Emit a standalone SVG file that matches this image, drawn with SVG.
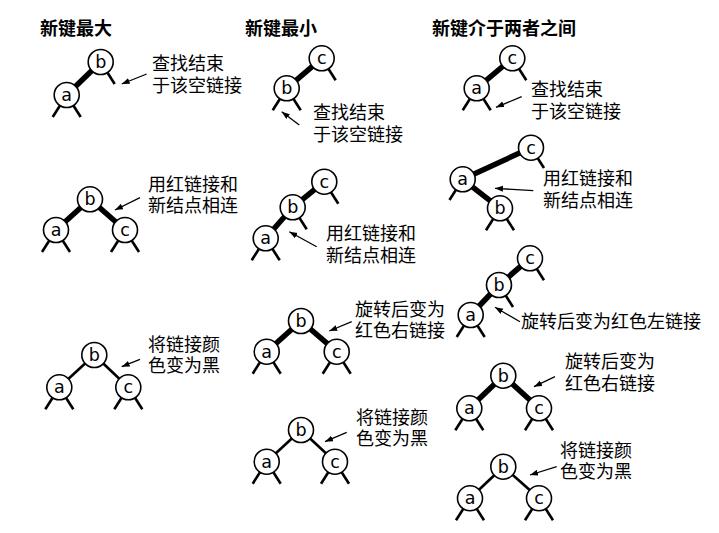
<svg xmlns="http://www.w3.org/2000/svg" width="719" height="533" viewBox="0 0 719 533">
<style>
.n circle{fill:#fff;stroke:#000;stroke-width:1.6}
.n text{font-family:"DejaVu Sans",sans-serif;font-size:17.5px;text-anchor:middle;fill:#000}
.thick{stroke:#000;stroke-width:5.5;stroke-linecap:butt}
.thin{stroke:#000;stroke-width:2.6}
.stub{stroke:#000;stroke-width:2.6}
.arr{stroke:#000;stroke-width:1.3;marker-end:url(#ah)}
.lbl{font-family:"Noto Sans CJK SC","Noto Sans",sans-serif;font-size:18px;fill:#000}
.ttl{font-family:"Noto Sans CJK SC","Noto Sans",sans-serif;font-size:18px;font-weight:bold;fill:#000}
</style>
<defs>
<marker id="ah" markerUnits="userSpaceOnUse" markerWidth="9" markerHeight="7" refX="8" refY="3" orient="auto">
<path d="M0,0 L8,3 L0,6 z" fill="#000"/>
</marker>
</defs>
<rect width="719" height="533" fill="#fff"/>
<g id="titles">
<text class="ttl" x="40" y="35">新键最大</text>
<text class="ttl" x="245" y="35">新键最小</text>
<text class="ttl" x="432" y="35">新键介于两者之间</text>
</g>
<g id="connectors">
<line class="thick" x1="100.7" y1="62" x2="66.7" y2="95"/>
<line class="stub" x1="100.7" y1="62" x2="114.7" y2="84"/>
<line class="stub" x1="66.7" y1="95" x2="52.7" y2="117"/>
<line class="stub" x1="66.7" y1="95" x2="80.7" y2="117"/>
<line class="arr" x1="146.7" y1="74" x2="121.7" y2="84"/>
<line class="thick" x1="321.7" y1="58.3" x2="286.7" y2="88.3"/>
<line class="stub" x1="321.7" y1="58.3" x2="335.7" y2="80.3"/>
<line class="stub" x1="286.7" y1="88.3" x2="272.7" y2="110.3"/>
<line class="stub" x1="286.7" y1="88.3" x2="300.7" y2="110.3"/>
<line class="arr" x1="299.3" y1="125" x2="281.7" y2="111.7"/>
<line class="thick" x1="512.3" y1="58.3" x2="476.7" y2="88.3"/>
<line class="stub" x1="512.3" y1="58.3" x2="526.3" y2="80.3"/>
<line class="stub" x1="476.7" y1="88.3" x2="462.7" y2="110.3"/>
<line class="stub" x1="476.7" y1="88.3" x2="490.7" y2="110.3"/>
<line class="arr" x1="521.7" y1="96.7" x2="496" y2="107.3"/>
<line class="thick" x1="90" y1="199.3" x2="56" y2="230"/>
<line class="thick" x1="90" y1="199.3" x2="125" y2="230"/>
<line class="stub" x1="56" y1="230" x2="42" y2="252"/>
<line class="stub" x1="56" y1="230" x2="70" y2="252"/>
<line class="stub" x1="125" y1="230" x2="111" y2="252"/>
<line class="stub" x1="125" y1="230" x2="139" y2="252"/>
<line class="arr" x1="140" y1="197.7" x2="115" y2="210"/>
<line class="thick" x1="324.3" y1="181.7" x2="292.7" y2="207.3"/>
<line class="thick" x1="292.7" y1="207.3" x2="265.7" y2="238.3"/>
<line class="stub" x1="324.3" y1="181.7" x2="338.3" y2="203.7"/>
<line class="stub" x1="292.7" y1="207.3" x2="306.7" y2="229.3"/>
<line class="stub" x1="265.7" y1="238.3" x2="251.7" y2="260.3"/>
<line class="stub" x1="265.7" y1="238.3" x2="279.7" y2="260.3"/>
<line class="arr" x1="316.7" y1="246.7" x2="289.3" y2="231.7"/>
<line class="thick" x1="462.7" y1="179.3" x2="531" y2="147.7"/>
<line class="thick" x1="462.7" y1="179.3" x2="500" y2="208.3"/>
<line class="stub" x1="531" y1="147.7" x2="544" y2="168"/>
<line class="stub" x1="462.7" y1="179.3" x2="449.5" y2="200"/>
<line class="stub" x1="500" y1="208.3" x2="486" y2="230.3"/>
<line class="stub" x1="500" y1="208.3" x2="514" y2="230.3"/>
<line class="arr" x1="533.3" y1="190.7" x2="495" y2="188.3"/>
<line class="thick" x1="530" y1="258.3" x2="499" y2="285"/>
<line class="thick" x1="499" y1="285" x2="470.7" y2="315"/>
<line class="stub" x1="530" y1="258.3" x2="544" y2="280.3"/>
<line class="stub" x1="499" y1="285" x2="513" y2="307"/>
<line class="stub" x1="470.7" y1="315" x2="456.7" y2="337"/>
<line class="stub" x1="470.7" y1="315" x2="484.7" y2="337"/>
<line class="arr" x1="520" y1="321.7" x2="495" y2="307.3"/>
<line class="thin" x1="94.3" y1="355" x2="59.3" y2="387.3"/>
<line class="thin" x1="94.3" y1="355" x2="128.3" y2="387.3"/>
<line class="stub" x1="59.3" y1="387.3" x2="45.3" y2="409.3"/>
<line class="stub" x1="59.3" y1="387.3" x2="73.3" y2="409.3"/>
<line class="stub" x1="128.3" y1="387.3" x2="114.3" y2="409.3"/>
<line class="stub" x1="128.3" y1="387.3" x2="142.3" y2="409.3"/>
<line class="arr" x1="140" y1="359.3" x2="121.7" y2="366.7"/>
<line class="thick" x1="301" y1="321" x2="266.7" y2="351.7"/>
<line class="thick" x1="301" y1="321" x2="336.7" y2="351.7"/>
<line class="stub" x1="266.7" y1="351.7" x2="252.7" y2="373.7"/>
<line class="stub" x1="266.7" y1="351.7" x2="280.7" y2="373.7"/>
<line class="stub" x1="336.7" y1="351.7" x2="322.7" y2="373.7"/>
<line class="stub" x1="336.7" y1="351.7" x2="350.7" y2="373.7"/>
<line class="arr" x1="351.7" y1="321.7" x2="329.3" y2="331"/>
<line class="thin" x1="301" y1="430" x2="266.7" y2="461.7"/>
<line class="thin" x1="301" y1="430" x2="335" y2="461.7"/>
<line class="stub" x1="266.7" y1="461.7" x2="252.7" y2="483.7"/>
<line class="stub" x1="266.7" y1="461.7" x2="280.7" y2="483.7"/>
<line class="stub" x1="335" y1="461.7" x2="321" y2="483.7"/>
<line class="stub" x1="335" y1="461.7" x2="349" y2="483.7"/>
<line class="arr" x1="346.7" y1="432.3" x2="325" y2="441.7"/>
<line class="thick" x1="503.3" y1="375.7" x2="469.3" y2="408.3"/>
<line class="thick" x1="503.3" y1="375.7" x2="539" y2="408.3"/>
<line class="stub" x1="469.3" y1="408.3" x2="455.3" y2="430.3"/>
<line class="stub" x1="469.3" y1="408.3" x2="483.3" y2="430.3"/>
<line class="stub" x1="539" y1="408.3" x2="525" y2="430.3"/>
<line class="stub" x1="539" y1="408.3" x2="553" y2="430.3"/>
<line class="arr" x1="555" y1="376.7" x2="534" y2="386.7"/>
<line class="thin" x1="503.3" y1="466.7" x2="470" y2="498.3"/>
<line class="thin" x1="503.3" y1="466.7" x2="539" y2="498.3"/>
<line class="stub" x1="470" y1="498.3" x2="456" y2="520.3"/>
<line class="stub" x1="470" y1="498.3" x2="484" y2="520.3"/>
<line class="stub" x1="539" y1="498.3" x2="525" y2="520.3"/>
<line class="stub" x1="539" y1="498.3" x2="553" y2="520.3"/>
<line class="arr" x1="556.7" y1="466.7" x2="530" y2="475"/>
</g>
<g id="p1-b" class="n"><circle cx="100.7" cy="62" r="12.5"/><text x="100.7" y="67.8">b</text></g>
<g id="p1-a" class="n"><circle cx="66.7" cy="95" r="12.5"/><text x="66.7" y="100.8">a</text></g>
<g id="p2-c" class="n"><circle cx="321.7" cy="58.3" r="12.5"/><text x="321.7" y="64.1">c</text></g>
<g id="p2-b" class="n"><circle cx="286.7" cy="88.3" r="12.5"/><text x="286.7" y="94.1">b</text></g>
<g id="p3-c" class="n"><circle cx="512.3" cy="58.3" r="12.5"/><text x="512.3" y="64.1">c</text></g>
<g id="p3-a" class="n"><circle cx="476.7" cy="88.3" r="12.5"/><text x="476.7" y="94.1">a</text></g>
<g id="q1-b" class="n"><circle cx="90" cy="199.3" r="12.5"/><text x="90" y="205.1">b</text></g>
<g id="q1-a" class="n"><circle cx="56" cy="230" r="12.5"/><text x="56" y="235.8">a</text></g>
<g id="q1-c" class="n"><circle cx="125" cy="230" r="12.5"/><text x="125" y="235.8">c</text></g>
<g id="q2-c" class="n"><circle cx="324.3" cy="181.7" r="12.5"/><text x="324.3" y="187.5">c</text></g>
<g id="q2-b" class="n"><circle cx="292.7" cy="207.3" r="12.5"/><text x="292.7" y="213.1">b</text></g>
<g id="q2-a" class="n"><circle cx="265.7" cy="238.3" r="12.5"/><text x="265.7" y="244.1">a</text></g>
<g id="q3-c" class="n"><circle cx="531" cy="147.7" r="12.5"/><text x="531" y="153.5">c</text></g>
<g id="q3-a" class="n"><circle cx="462.7" cy="179.3" r="12.5"/><text x="462.7" y="185.1">a</text></g>
<g id="q3-b" class="n"><circle cx="500" cy="208.3" r="12.5"/><text x="500" y="214.1">b</text></g>
<g id="q4-c" class="n"><circle cx="530" cy="258.3" r="12.5"/><text x="530" y="264.1">c</text></g>
<g id="q4-b" class="n"><circle cx="499" cy="285" r="12.5"/><text x="499" y="290.8">b</text></g>
<g id="q4-a" class="n"><circle cx="470.7" cy="315" r="12.5"/><text x="470.7" y="320.8">a</text></g>
<g id="r1-b" class="n"><circle cx="94.3" cy="355" r="12.5"/><text x="94.3" y="360.8">b</text></g>
<g id="r1-a" class="n"><circle cx="59.3" cy="387.3" r="12.5"/><text x="59.3" y="393.1">a</text></g>
<g id="r1-c" class="n"><circle cx="128.3" cy="387.3" r="12.5"/><text x="128.3" y="393.1">c</text></g>
<g id="r2-b" class="n"><circle cx="301" cy="321" r="12.5"/><text x="301" y="326.8">b</text></g>
<g id="r2-a" class="n"><circle cx="266.7" cy="351.7" r="12.5"/><text x="266.7" y="357.5">a</text></g>
<g id="r2-c" class="n"><circle cx="336.7" cy="351.7" r="12.5"/><text x="336.7" y="357.5">c</text></g>
<g id="r3-b" class="n"><circle cx="301" cy="430" r="12.5"/><text x="301" y="435.8">b</text></g>
<g id="r3-a" class="n"><circle cx="266.7" cy="461.7" r="12.5"/><text x="266.7" y="467.5">a</text></g>
<g id="r3-c" class="n"><circle cx="335" cy="461.7" r="12.5"/><text x="335" y="467.5">c</text></g>
<g id="r4-b" class="n"><circle cx="503.3" cy="375.7" r="12.5"/><text x="503.3" y="381.5">b</text></g>
<g id="r4-a" class="n"><circle cx="469.3" cy="408.3" r="12.5"/><text x="469.3" y="414.1">a</text></g>
<g id="r4-c" class="n"><circle cx="539" cy="408.3" r="12.5"/><text x="539" y="414.1">c</text></g>
<g id="r5-b" class="n"><circle cx="503.3" cy="466.7" r="12.5"/><text x="503.3" y="472.5">b</text></g>
<g id="r5-a" class="n"><circle cx="470" cy="498.3" r="12.5"/><text x="470" y="504.1">a</text></g>
<g id="r5-c" class="n"><circle cx="539" cy="498.3" r="12.5"/><text x="539" y="504.1">c</text></g>
<g id="labels">
<text class="lbl" x="152" y="70">查找结束<tspan x="152" dy="22">于该空链接</tspan></text>
<text class="lbl" x="313" y="119">查找结束<tspan x="313" dy="22">于该空链接</tspan></text>
<text class="lbl" x="531" y="96">查找结束<tspan x="531" dy="22">于该空链接</tspan></text>
<text class="lbl" x="148" y="191">用红链接和<tspan x="148" dy="21">新结点相连</tspan></text>
<text class="lbl" x="326" y="240">用红链接和<tspan x="326" dy="22">新结点相连</tspan></text>
<text class="lbl" x="543" y="185">用红链接和<tspan x="543" dy="22">新结点相连</tspan></text>
<text class="lbl" x="521" y="328">旋转后变为红色左链接</text>
<text class="lbl" x="148" y="351">将链接颜<tspan x="148" dy="21">色变为黑</tspan></text>
<text class="lbl" x="355" y="316">旋转后变为<tspan x="355" dy="21">红色右链接</tspan></text>
<text class="lbl" x="356" y="424">将链接颜<tspan x="356" dy="21">色变为黑</tspan></text>
<text class="lbl" x="565" y="368">旋转后变为<tspan x="565" dy="22">红色右链接</tspan></text>
<text class="lbl" x="560" y="457">将链接颜<tspan x="560" dy="21">色变为黑</tspan></text>
</g>
</svg>
